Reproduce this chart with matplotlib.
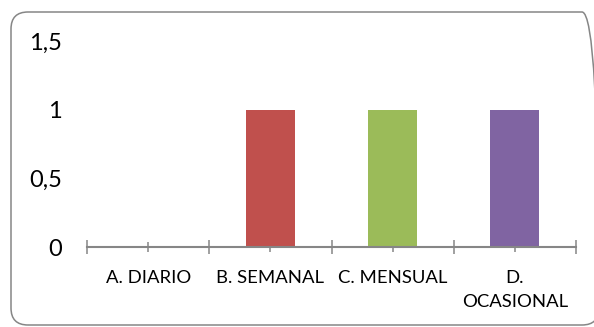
import matplotlib
matplotlib.use("Agg")
import matplotlib.pyplot as plt
from matplotlib.patches import FancyBboxPatch
from matplotlib.transforms import IdentityTransform
from matplotlib.ticker import FixedLocator

categories = ["A. DIARIO", "B. SEMANAL", "C. MENSUAL", "D.\nOCASIONAL"]
values = [0, 1, 1, 1]
bar_colors = ["#4F81BD", "#C0504D", "#9BBB59", "#8064A2"]
y_ticks = [0, 0.5, 1, 1.5]
y_tick_labels = ["0", "0,5", "1", "1,5"]

W, H, DPI = 594, 327, 100
fig = plt.figure(figsize=(W / DPI, H / DPI), dpi=DPI)
fig.patch.set_facecolor("white")

# rounded chart border (pixel coordinates)
border = FancyBboxPatch((11, 2), 588, 313,
                        boxstyle="round,pad=0,rounding_size=17",
                        transform=IdentityTransform(), fill=False,
                        edgecolor="#868686", linewidth=1.1)
fig.patches.append(border)

left, right = 87 / W, 576 / W
bottom, top = 1 - 247 / H, 1 - 41.5 / H
ax = fig.add_axes([left, bottom, right - left, top - bottom])
ax.set_facecolor("none")

x = list(range(len(categories)))
ax.bar(x, values, width=0.4, color=bar_colors, zorder=3)

ax.set_xlim(-0.5, len(categories) - 0.5)
ax.set_ylim(0, 1.5)

font = "Lato"
ax.set_xticks(x)
ax.set_xticklabels(categories, fontsize=13.3, family=font, color="black",
                   linespacing=1.6)
ax.xaxis.set_minor_locator(FixedLocator([i - 0.5 for i in range(len(categories) + 1)]))
ax.tick_params(axis="x", which="major", direction="inout", length=6.8, width=1.1,
               color="#868686", pad=13)
ax.tick_params(axis="x", which="minor", direction="inout", length=9.7, width=1.1,
               color="#868686")

ax.set_yticks(y_ticks)
ax.set_yticklabels(y_tick_labels, fontsize=17, family=font, color="black")
ax.tick_params(axis="y", length=0, pad=18)

for s in ["left", "top", "right"]:
    ax.spines[s].set_visible(False)
ax.spines["bottom"].set_color("#868686")
ax.spines["bottom"].set_linewidth(1.5)
ax.spines["bottom"].set_zorder(4)

fig.savefig("out.png", dpi=DPI, facecolor="white")
